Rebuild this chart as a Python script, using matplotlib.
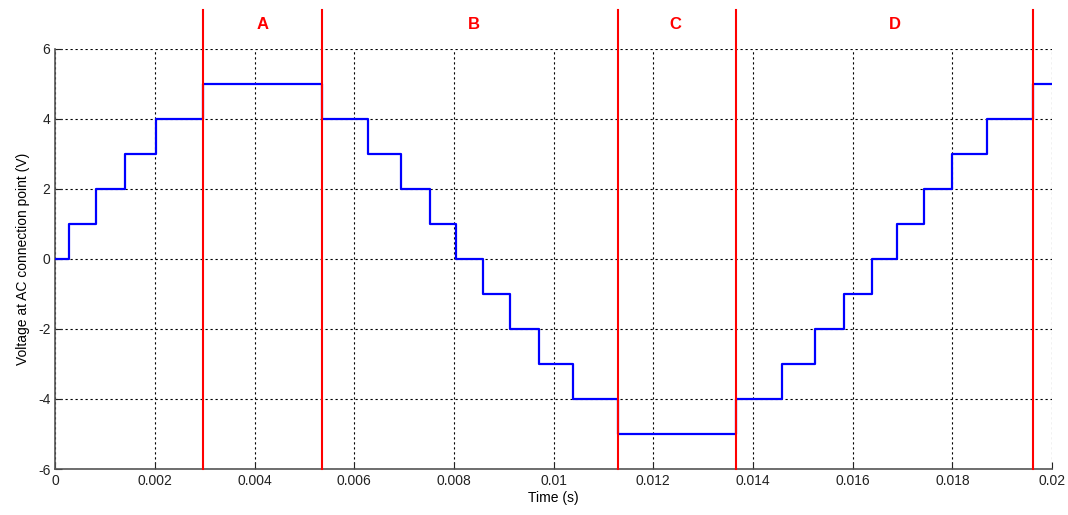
import matplotlib.pyplot as plt

plt.rcParams['font.family'] = ['Liberation Sans', 'DejaVu Sans']
plt.rcParams['axes.unicode_minus'] = False

# switching instants (s) and the output voltage level held from each instant
t_switch = [0, 0.00027, 0.00081, 0.0014, 0.00203, 0.00297, 0.00536, 0.00627,
            0.00694, 0.00752, 0.00804, 0.00858, 0.00913, 0.00971, 0.01038,
            0.01129, 0.01365, 0.01458, 0.01525, 0.01583, 0.01639, 0.0169,
            0.01743, 0.018, 0.0187, 0.01961, 0.02]
v_level = [0, 1, 2, 3, 4, 5, 4, 3, 2, 1, 0, -1, -2, -3, -4, -5, -4, -3, -2,
           -1, 0, 1, 2, 3, 4, 5, 5]

# region boundaries and labels
boundaries = [0.00297, 0.00536, 0.01129, 0.01365, 0.01961]
region_names = ['A', 'B', 'C', 'D']
region_x = [0.00415, 0.0084, 0.01244, 0.01685]

xticks = [0, 0.002, 0.004, 0.006, 0.008, 0.01, 0.012, 0.014, 0.016, 0.018, 0.02]
xtick_labels = ['0', '0.002', '0.004', '0.006', '0.008', '0.01', '0.012',
                '0.014', '0.016', '0.018', '0.02']
yticks = [-6, -4, -2, 0, 2, 4, 6]

fig = plt.figure(figsize=(10.68, 5.15), dpi=100)
ax = fig.add_axes([0.0518, 0.0893, 0.9332, 0.8157])

ax.plot(t_switch, v_level, drawstyle='steps-post', color='#0000ff', lw=1.6, zorder=3)

for b in boundaries:
    ax.plot([b, b], [-6, 7.12], color='#ff0000', lw=1.5, clip_on=False, zorder=4)
for name, x in zip(region_names, region_x):
    ax.text(x, 6.69, name, color='#ff0000', fontsize=12, fontweight='bold',
            ha='center', va='center')

ax.set_xlim(0, 0.02)
ax.set_ylim(-6, 6)
ax.set_xticks(xticks)
ax.set_xticklabels(xtick_labels)
ax.set_yticks(yticks)
ax.tick_params(direction='in', length=5, labelsize=10, colors='#222222',
               top=False, right=False)
ax.grid(True, color='black', linestyle=(0, (2, 2.5)), lw=0.8)

for side in ['top', 'right']:
    ax.spines[side].set_visible(False)
for side in ['left', 'bottom']:
    ax.spines[side].set_color('#555555')
    ax.spines[side].set_linewidth(1.2)

ax.set_xlabel('Time (s)', fontsize=10, labelpad=2)
ax.set_ylabel('Voltage at AC connection point (V)', fontsize=10, labelpad=6)

fig.savefig('out.png', dpi=100)
